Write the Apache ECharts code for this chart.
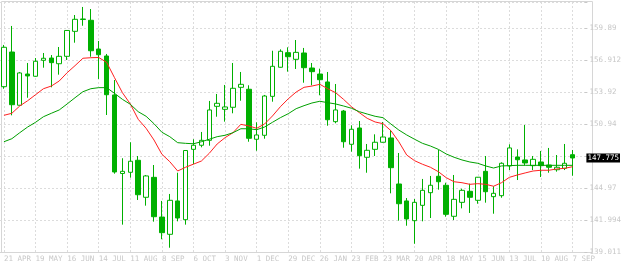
<!DOCTYPE html>
<html>
<head>
<meta charset="utf-8">
<script src="https://cdn.jsdelivr.net/npm/echarts@6/dist/echarts.min.js"></script>
<style>
html,body{margin:0;padding:0;background:#fff;}
#chart{width:624px;height:266px;}
</style>
</head>
<body>
<div id="chart"></div>
<script>
// Weekly bars, 21 APR .. 7 SEP (last slot left empty as right margin)
var categories = ["21 APR","28 APR","5 MAY","12 MAY","19 MAY","26 MAY","2 JUN","9 JUN","16 JUN","23 JUN","30 JUN",
"7 JUL","14 JUL","21 JUL","28 JUL","4 AUG","11 AUG","18 AUG","25 AUG","1 SEP","8 SEP","15 SEP","22 SEP","29 SEP",
"6 OCT","13 OCT","20 OCT","27 OCT","3 NOV","10 NOV","17 NOV","24 NOV","1 DEC","8 DEC","15 DEC","22 DEC","29 DEC",
"5 JAN","12 JAN","19 JAN","26 JAN","2 FEB","9 FEB","16 FEB","23 FEB","2 MAR","9 MAR","16 MAR","23 MAR","30 MAR",
"6 APR","13 APR","20 APR","27 APR","4 MAY","11 MAY","18 MAY","25 MAY","1 JUN","8 JUN","15 JUN","22 JUN","29 JUN",
"6 JUL","13 JUL","20 JUL","27 JUL","3 AUG","10 AUG","17 AUG","24 AUG","31 AUG","7 SEP",""];

var opens = [154.42,157.65,152.69,155.60,155.39,156.88,157.09,156.56,157.25,159.58,
160.68,160.61,157.93,157.28,153.65,146.33,146.44,147.56,144.11,145.97,
142.27,140.66,143.77,142.02,148.58,148.96,149.42,152.59,152.31,152.50,
154.36,154.18,149.52,149.89,153.52,156.23,157.59,156.97,157.56,156.16,
155.60,154.86,151.16,152.15,149.05,150.57,147.84,148.58,149.24,149.64,
145.35,143.77,141.93,143.36,144.54,146.07,145.23,142.34,143.64,144.67,
143.83,146.53,144.17,144.26,147.03,147.87,147.59,147.06,147.40,147.12,
146.68,146.81,148.08];

var closes = [158.09,152.74,155.70,155.42,156.79,157.07,156.66,157.25,159.66,160.70,
160.73,157.77,157.40,153.67,146.47,146.53,147.47,144.35,146.10,142.30,
140.81,143.83,142.18,148.47,148.96,149.42,152.25,152.87,152.53,154.27,
154.64,149.61,149.92,153.55,156.32,157.72,157.21,157.62,156.19,155.82,
155.07,151.34,152.25,149.29,150.45,147.99,148.49,149.24,149.73,146.87,
143.51,142.09,143.64,144.76,145.23,145.56,142.52,143.92,144.76,144.11,
145.98,144.63,144.48,147.28,148.71,147.61,147.31,147.65,147.06,146.91,
146.91,147.28,147.775];

var highs = [158.31,160.08,155.79,156.63,157.09,157.56,157.37,158.12,159.70,161.10,
161.85,161.66,158.68,157.47,155.04,147.75,149.24,147.96,146.19,147.12,
143.77,144.42,146.40,148.50,149.52,150.20,153.09,153.74,154.58,156.63,
155.79,154.55,151.10,153.65,157.77,157.90,158.09,158.77,158.03,156.63,
156.10,155.79,154.67,152.25,150.82,151.22,149.08,149.98,151.13,150.38,
148.24,144.04,143.95,145.82,146.10,148.52,145.47,146.19,144.91,145.38,
146.00,147.96,145.14,147.37,149.05,148.58,150.85,147.96,148.43,148.71,
148.05,149.08,148.52];

var lows = [154.23,151.75,152.67,153.39,155.35,156.19,154.36,155.54,156.91,158.52,
160.10,157.21,155.14,151.78,146.31,141.56,145.94,143.86,143.33,141.84,
140.20,139.41,141.87,141.56,147.19,148.77,148.92,151.62,151.16,151.94,
153.11,149.29,148.45,149.57,153.02,156.20,155.82,156.07,154.79,154.55,
153.62,150.78,151.01,148.73,148.36,146.78,146.40,147.96,149.20,144.48,
141.93,141.46,139.78,141.87,142.18,144.82,142.30,141.99,143.08,142.65,
143.51,143.61,142.58,144.07,146.65,145.72,147.09,146.65,146.00,146.40,
146.50,146.65,146.12];

var maFast = [151.75,151.94,152.62,153.11,153.67,154.23,154.48,154.95,155.72,156.38,
157.07,157.12,157.14,156.69,155.26,153.86,152.81,151.38,150.54,149.45,
148.12,147.43,146.56,146.91,147.20,147.49,148.21,149.08,149.67,150.13,
150.91,150.76,150.54,150.94,151.69,152.55,153.29,153.92,154.36,154.48,
154.64,154.23,153.86,153.24,152.55,152.00,151.47,151.13,150.97,150.32,
149.29,148.05,147.52,147.19,146.91,146.50,145.94,145.56,145.47,145.32,
145.38,145.32,145.14,145.47,145.97,146.19,146.38,146.56,146.63,146.63,
146.75,146.81,146.96];

var maSlow = [149.29,149.57,150.13,150.66,151.10,151.62,151.94,152.25,152.81,153.39,
153.95,154.23,154.33,154.33,153.80,153.24,152.78,152.09,151.66,150.97,
150.17,149.76,149.20,149.14,149.10,149.29,149.52,149.76,149.89,150.13,
150.50,150.50,150.41,150.66,151.10,151.53,151.90,152.37,152.65,152.90,
153.06,152.93,152.81,152.62,152.41,152.09,151.87,151.66,151.53,150.94,
150.38,149.92,149.52,149.14,148.89,148.58,148.15,147.84,147.59,147.40,
147.28,147.03,146.84,147.03,147.06,147.09,147.09,147.09,147.09,147.09,
147.09,147.09,147.09];

var yMin = 139.011;
var yStep = 2.98271;
var yMax = 162.313;
var yTickLabels = ["139.011","141.994","144.97","","150.94","153.92","156.912","159.89",""];
var lastPrice = 147.775;

var GREEN = '#00b000';
var FONT = 'DejaVu Sans Mono';
var LABEL_COLOR = '#c8c8c8';

var candleData = opens.map(function(o, i){ return [o, closes[i], lows[i], highs[i]]; });

var chart = echarts.init(document.getElementById('chart'), null, {renderer:'canvas'});
chart.setOption({
  animation: false,
  backgroundColor: '#fff',
  grid: {left: 0, top: 2, width: 592, height: 250, show: false},
  graphic: [{
    type: 'rect', z: -10, silent: true,
    shape: {x: 1.5, y: 1.5, width: 591, height: 251},
    style: {fill: 'none', stroke: '#d6d6d6', lineWidth: 1}
  }],
  xAxis: {
    type: 'category',
    data: categories,
    boundaryGap: true,
    axisLine: {show: true, lineStyle: {color: '#d6d6d6'}},
    axisTick: {show: false},
    axisLabel: {interval: 3, align: 'left', margin: 3, color: LABEL_COLOR,
      fontFamily: FONT, fontSize: 7.5},
    splitLine: {show: true, interval: 3, alignWithLabel: true,
      lineStyle: {color: '#dcdcdc', type: [2, 2], width: 1}}
  },
  yAxis: {
    type: 'value',
    position: 'right',
    min: yMin, max: yMax, interval: yStep,
    axisLine: {show: false},
    axisTick: {show: true, length: 3, lineStyle: {color: '#c8c8c8'}},
    axisLabel: {margin: 5, color: LABEL_COLOR, fontFamily: FONT, fontSize: 7.5,
      formatter: function(v){
        var k = Math.round((v - yMin) / yStep);
        return yTickLabels[k] || '';
      }},
    splitLine: {show: true, lineStyle: {color: '#dcdcdc', type: [2, 2], width: 1}}
  },
  series: [{
    type: 'candlestick',
    data: candleData,
    barWidth: 5,
    itemStyle: {color: '#ffffff', color0: GREEN, borderColor: GREEN, borderColor0: GREEN, borderWidth: 1},
    markLine: {
      silent: true, symbol: 'none', animation: false,
      lineStyle: {color: 'transparent', width: 0},
      label: {position: 'end', distance: 2, align: 'left', formatter: String(lastPrice),
        backgroundColor: '#000', color: '#fff', padding: [1, 1, 0, 1],
        fontFamily: FONT, fontSize: 7.5},
      data: [{yAxis: lastPrice}]
    }
  }, {
    type: 'line', data: maFast, symbol: 'none', z: 5,
    lineStyle: {color: '#ff2020', width: 1}
  }, {
    type: 'line', data: maSlow, symbol: 'none', z: 5,
    lineStyle: {color: '#00a000', width: 1}
  }]
});
</script>
</body>
</html>
